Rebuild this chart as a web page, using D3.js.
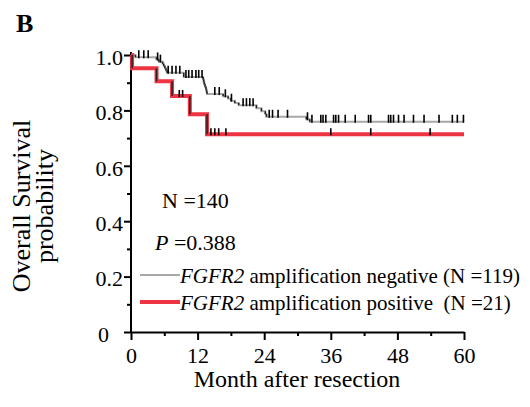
<!DOCTYPE html>
<html>
<head>
<meta charset="utf-8">
<script src="https://cdn.jsdelivr.net/npm/d3@7"></script>
<style>
  body { margin: 0; background: #fff; }
  text { font-family: "Liberation Serif", "Times New Roman", serif; fill: #000; }
</style>
</head>
<body>
<div id="chart"></div>
<script>

/*##############################
#   Data  #
###############################*/

// FGFR2 amplification negative (N = 119): event times (months) and survival after each event
var negTimes = [0.8, 4.6, 5.0, 5.7, 5.9, 6.1, 6.3, 6.5, 9.5, 13.0, 13.1, 13.2, 13.35, 13.5, 13.6, 13.7,
                16.6, 17.5, 18.0, 18.7, 19.4, 22.6, 23.5, 24.2, 24.4, 31.6, 32.2];
var negSurv  = [0.992, 0.984, 0.976, 0.968, 0.960, 0.952, 0.944, 0.936, 0.921, 0.912, 0.903, 0.894, 0.885, 0.876, 0.868, 0.859,
                0.851, 0.843, 0.835, 0.827, 0.819, 0.808, 0.797, 0.787, 0.777, 0.768, 0.759];
var negCensor = [1.4, 2.3, 3.1, 4.8, 5.3, 6.7, 7.4, 8.1, 8.8, 9.9, 10.4, 11.0, 11.7, 12.2, 12.8,
                 15.1, 15.9, 17.0, 18.1, 20.2, 20.8, 21.4, 22.0, 24.9, 25.5, 26.5, 28.2, 31.8,
                 32.6, 34.2, 34.6, 35.1, 36.5, 36.9, 37.4, 38.6, 40.4, 42.8, 43.2, 46.4, 46.8, 47.3,
                 48.2, 49.2, 50.9, 52.8, 55.5, 57.9, 58.8, 59.9];

// FGFR2 amplification positive (N = 21)
var posTimes = [0.2, 4.6, 7.4, 10.6, 13.7];
var posSurv  = [0.952, 0.905, 0.852, 0.786, 0.714];
var posCensor = [8.7, 9.3, 14.4, 15.1, 15.8, 17.1, 36.0, 43.2, 53.9];

var xTicks = [0, 12, 24, 36, 48, 60];
var xMinor = [6, 18, 30, 42, 54];
var yTicks = [0, 0.2, 0.4, 0.6, 0.8, 1.0];
var yMinor = [0.1, 0.3, 0.5, 0.7, 0.9];

var legendLabels = ["amplification negative (N =119)", "amplification positive\u00a0 (N =21)"];

/*##############################
#       Draw                   #
###############################*/

const width = 530, height = 407;

const svg = d3.select("#chart").append("svg")
    .attr("width", width)
    .attr("height", height);

var x = d3.scaleLinear().domain([0, 60]).range([131, 464]);
var y = d3.scaleLinear().domain([0, 1]).range([332, 55]);

// survival value of a step curve at time t
function survAt(times, surv, t) {
    var s = 1;
    for (var i = 0; i < times.length; i++) {
        if (times[i] <= t) s = surv[i];
    }
    return s;
}

function stepPoints(times, surv) {
    var pts = [[0, 1]];
    times.forEach(function(t, i) { pts.push([t, surv[i]]); });
    pts.push([60, surv[surv.length - 1]]);
    return pts;
}

var line = d3.line()
    .x(function(d) { return x(d[0]); })
    .y(function(d) { return y(d[1]); })
    .curve(d3.curveStepAfter);

// Axes
var yAxis = svg.append("g")
    .attr("transform", "translate(" + x(0) + ",0)")
    .call(d3.axisLeft(y).tickValues(yTicks).tickSize(7).tickSizeOuter(0).tickPadding(1)
        .tickFormat(function(d) { return d === 0 ? "0" : d3.format(".1f")(d); }));
yAxis.select(".domain").attr("d", "M0," + (y(1) - 3) + "V" + y(0));
yAxis.selectAll("text").attr("font-size", 22).attr("dy", "0.42em")
    .attr("dx", function(d) { return d === 0 ? -14 : 0; });

svg.append("g")
    .attr("transform", "translate(" + x(0) + ",0)")
    .call(d3.axisLeft(y).tickValues(yMinor).tickSize(4).tickFormat(""))
    .select(".domain").remove();

var xAxis = svg.append("g")
    .attr("transform", "translate(0," + y(0) + ")")
    .call(d3.axisBottom(x).tickValues(xTicks).tickSize(8).tickSizeOuter(0).tickPadding(7));
xAxis.selectAll("text").attr("font-size", 22);

svg.append("g")
    .attr("transform", "translate(0," + y(0) + ")")
    .call(d3.axisBottom(x).tickValues(xMinor).tickSize(4).tickFormat(""))
    .select(".domain").remove();

svg.selectAll(".domain, .tick line").attr("stroke", "#000").attr("stroke-width", 2);

// Curves
function drawCurve(times, surv, censor, colour, w, tickUp) {
    svg.append("path")
        .datum(stepPoints(times, surv))
        .attr("fill", "none")
        .attr("stroke", colour)
        .attr("stroke-width", w)
        .attr("d", line);

    // drops drawn dark
    svg.append("g").selectAll("line")
        .data(times)
        .enter()
        .append("line")
        .attr("x1", function(d) { return x(d); })
        .attr("x2", function(d) { return x(d); })
        .attr("y1", function(d, i) { return y(i === 0 ? 1 : surv[i - 1]); })
        .attr("y2", function(d, i) { return y(surv[i]); })
        .attr("stroke", "#222")
        .attr("stroke-width", 1.5);

    // censor marks
    svg.append("g").selectAll("line")
        .data(censor)
        .enter()
        .append("line")
        .attr("x1", function(d) { return x(d); })
        .attr("x2", function(d) { return x(d); })
        .attr("y1", function(d) { return y(survAt(times, surv, d)) - tickUp; })
        .attr("y2", function(d) { return y(survAt(times, surv, d)) + 1; })
        .attr("stroke", "#000")
        .attr("stroke-width", 1.6);
}

drawCurve(negTimes, negSurv, negCensor, "#a8a8a8", 2, 7);
drawCurve(posTimes, posSurv, posCensor, "#ee3342", 4, 6);

// Panel letter
svg.append("text")
    .attr("x", 16)
    .attr("y", 32)
    .attr("font-size", 26)
    .attr("font-weight", "bold")
    .text("B");

// Axis titles
svg.append("text")
    .attr("x", 297)
    .attr("y", 387)
    .attr("text-anchor", "middle")
    .attr("font-size", 24)
    .text("Month after resection");

var yTitle = svg.append("text")
    .attr("transform", "translate(30,206) rotate(-90)")
    .attr("text-anchor", "middle")
    .attr("font-size", 26);
yTitle.append("tspan").attr("x", 0).attr("y", 0).text("Overall Survival");
yTitle.append("tspan").attr("x", 0).attr("y", 23).text("probability");

// N and P annotations
svg.append("text")
    .attr("x", 162)
    .attr("y", 208)
    .attr("font-size", 22)
    .text("N =140");

var pText = svg.append("text")
    .attr("x", 155)
    .attr("y", 250)
    .attr("font-size", 22);
pText.append("tspan").attr("font-style", "italic").text("P");
pText.append("tspan").text(" =0.388");

// Legend
var legendColours = ["#a8a8a8", "#ee3342"];
var legendWidths = [2, 4];
var legend = svg.append("g").selectAll("g")
    .data(legendLabels)
    .enter()
    .append("g")
    .attr("transform", function(d, i) { return "translate(140," + (275 + i * 27) + ")"; });

legend.append("line")
    .attr("x1", 0).attr("x2", 40)
    .attr("stroke", function(d, i) { return legendColours[i]; })
    .attr("stroke-width", function(d, i) { return legendWidths[i]; });

var legendText = legend.append("text")
    .attr("x", 40)
    .attr("y", 8)
    .attr("font-size", 21);
legendText.append("tspan").attr("font-style", "italic").text("FGFR2");
legendText.append("tspan").text(function(d) { return " " + d; });

</script>
</body>
</html>
